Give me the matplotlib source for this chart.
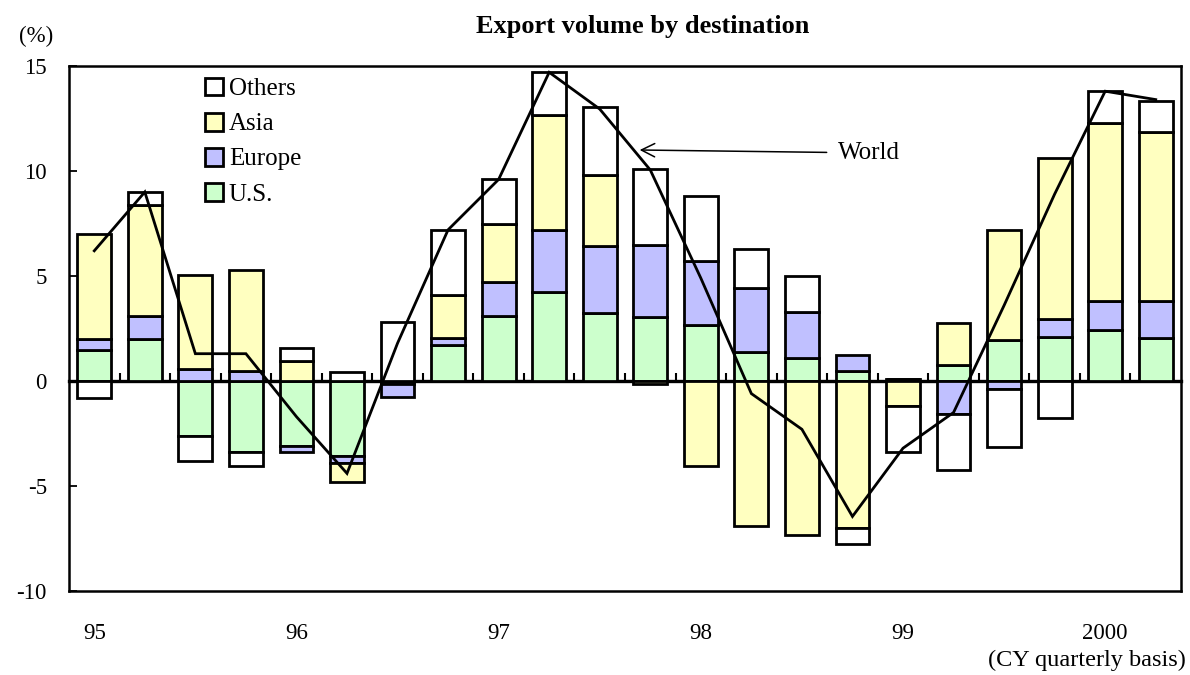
import numpy as np
import matplotlib
matplotlib.use("Agg")
import matplotlib.pyplot as plt
from matplotlib.patches import Patch

plt.rcParams['font.family'] = ['Liberation Serif', 'DejaVu Serif']

# Quarterly export volume growth by destination, 1995Q1 - 2000Q2 (y/y %, contributions)
quarters = np.arange(22)
year_ticks = [0, 4, 8, 12, 16, 20]
year_labels = ["95", "96", "97", "98", "99", "2000"]

us = [1.5, 2.0, -2.6, -3.4, -3.1, -3.55, -0.15, 1.7, 3.1, 4.25, 3.25,
      3.05, 2.65, 1.4, 1.1, 0.5, 0.1, 0.75, 1.95, 2.1, 2.45, 2.05]
europe = [0.5, 1.1, 0.55, 0.5, -0.3, -0.35, -0.6, 0.35, 1.6, 2.95, 3.2,
          3.45, 3.05, 3.05, 2.2, 0.75, 0.0, -1.55, -0.4, 0.85, 1.35, 1.75]
asia = [5.0, 5.3, 4.5, 4.8, 0.95, -0.9, 0.0, 2.05, 2.8, 5.45, 3.35,
        -0.15, -4.05, -6.9, -7.35, -7.0, -1.2, 2.0, 5.25, 7.65, 8.5, 8.05]
others = [-0.8, 0.6, -1.2, -0.65, 0.6, 0.45, 2.8, 3.1, 2.1, 2.05, 3.25,
          3.6, 3.1, 1.85, 1.7, -0.75, -2.2, -2.7, -2.75, -1.75, 1.5, 1.5]
world = [6.2, 9.0, 1.3, 1.3, -1.7, -4.4, 1.8, 7.2, 9.6, 14.7, 12.95,
         10.05, 4.9, -0.6, -2.3, -6.45, -3.2, -1.5, 3.6, 8.9, 13.8, 13.4]

series = [("U.S.", us, "#CCFFCC"),
          ("Europe", europe, "#C0C0FF"),
          ("Asia", asia, "#FFFFC0"),
          ("Others", others, "#FFFFFF")]

fig = plt.figure(figsize=(11.9, 6.75), dpi=100)
ax = fig.add_axes([69 / 1190, 1 - 591 / 675, 1112 / 1190, 525 / 675])

bar_w = 0.67
edge_lw = 2.0
pos_base = np.zeros(len(quarters))
neg_base = np.zeros(len(quarters))
handles = {}
for name, vals, color in series:
    v = np.asarray(vals, dtype=float)
    bottoms = np.where(v >= 0, pos_base, neg_base)
    ax.bar(quarters, v, width=bar_w, bottom=bottoms, color=color,
           edgecolor="black", linewidth=edge_lw, zorder=2)
    pos_base = pos_base + np.where(v > 0, v, 0)
    neg_base = neg_base + np.where(v < 0, v, 0)
    handles[name] = Patch(facecolor=color, edgecolor="black", linewidth=edge_lw)

ax.plot(quarters, world, color="black", linewidth=2.0, zorder=4,
        solid_joinstyle="miter")

ymin, ymax = -10, 15
ax.set_xlim(-0.5, 21.5)
ax.set_ylim(ymin, ymax)
ax.set_yticks([-10, -5, 0, 5, 10, 15])
ax.set_yticklabels(["-10", "-5", "0", "5", "10", "15"])
ax.set_xticks(year_ticks)
ax.set_xticklabels(year_labels)
ax.tick_params(axis="x", length=0, pad=23, labelsize=16.5)
ax.tick_params(axis="y", direction="in", length=6, width=1.3, pad=16,
               labelsize=16.5, right=False)
for sp in ax.spines.values():
    sp.set_linewidth(1.8)

# zero line with small quarter separators
zero_loc = (0 - ymin) / (ymax - ymin)
zx = ax.secondary_xaxis(zero_loc)
zx.set_xticks(np.arange(0.5, 21.0, 1.0))
zx.tick_params(direction="in", length=6, width=1.5, labelbottom=False,
               labeltop=False)
zx.spines["bottom"].set_linewidth(2.4)
zx.set_xticklabels([])

ax.legend([handles[n] for n in ["Others", "Asia", "Europe", "U.S."]],
          ["Others", "Asia", "Europe", "U.S."],
          loc="upper left", bbox_to_anchor=(0.122, 0.978), frameon=False,
          fontsize=18, handlelength=0.72, handleheight=0.72,
          handletextpad=0.25, labelspacing=0.5, borderpad=0,
          borderaxespad=0)

ax.annotate("World", xy=(10.79, 11.0), xytext=(14.71, 10.86),
            fontsize=18, va="center", ha="left",
            arrowprops=dict(arrowstyle="->", color="black", lw=1.1,
                            shrinkA=6, shrinkB=0, mutation_scale=24))

fig.text(643 / 1190, 1 - 27 / 675, "Export volume by destination",
         ha="center", va="center", fontsize=19, fontweight="bold")
fig.text(36 / 1190, 1 - 36 / 675, "(%)", ha="center", va="center",
         fontsize=16.5)
fig.text(1186 / 1190, 1 - 660 / 675, "(CY quarterly basis)", ha="right",
         va="center", fontsize=17.5)

fig.savefig("out.png", dpi=100)
